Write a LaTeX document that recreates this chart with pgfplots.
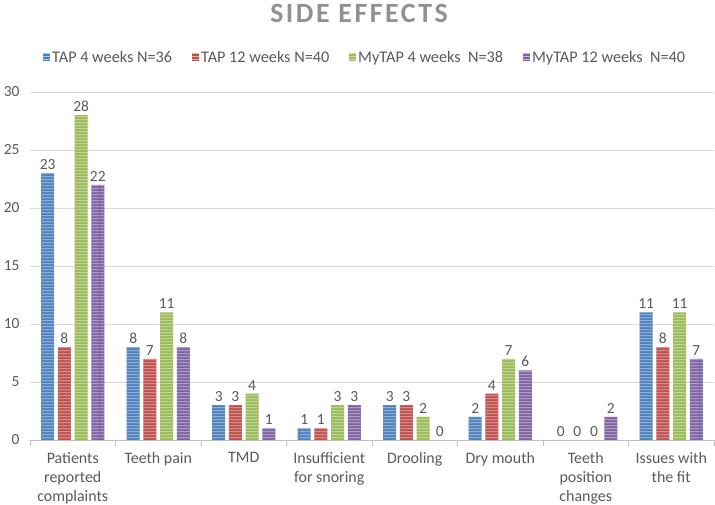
\documentclass[border=0pt]{standalone}
\usepackage{fontspec}
\setmainfont{Carlito}
\newfontfamily\titlefont[LetterSpace=9]{Carlito}
\usepackage{pgfplots}
\pgfplotsset{compat=1.18}
\usetikzlibrary{patterns}
\definecolor{tapblue}{RGB}{79,129,189}
\definecolor{tapred}{RGB}{192,80,77}
\definecolor{tapgreen}{RGB}{155,187,89}
\definecolor{tappurple}{RGB}{128,100,162}
\definecolor{labgray}{RGB}{89,89,89}
\definecolor{titlegray}{RGB}{145,145,148}
\definecolor{gridgray}{RGB}{217,217,217}
\definecolor{axisgray}{RGB}{191,191,191}
\pgfdeclarepatternformonly{hstripes}{\pgfpointorigin}{\pgfqpoint{100bp}{3bp}}{\pgfqpoint{100bp}{3bp}}{%
  \pgfsetlinewidth{1bp}%
  \pgfpathmoveto{\pgfqpoint{0bp}{1.5bp}}%
  \pgfpathlineto{\pgfqpoint{100bp}{1.5bp}}%
  \pgfusepath{stroke}}
\begin{document}
\begin{tikzpicture}
\path[use as bounding box] (0,0) rectangle (715bp,505bp);
\begin{axis}[
  at={(30bp,65bp)}, anchor=south west,
  scale only axis, width=684bp, height=348bp,
  ybar=3.7bp, bar width=13bp,
  xmin=-0.5, xmax=7.5, ymin=0, ymax=30,
  ytick={0,5,...,30},
  xtick={0,...,7},
  xticklabels={{Patients\\reported\\complaints},{Teeth pain},{TMD},{Insufficient\\for snoring},{Drooling},{Dry mouth},{Teeth\\position\\changes},{Issues with\\the fit}},
  minor xtick={-0.5,0.5,...,7.5},
  axis x line*=bottom, axis y line*=left,
  y axis line style={draw=none},
  x axis line style={draw=axisgray, line width=1bp},
  tick align=outside,
  major tick length=0pt, minor tick length=6bp,
  every minor x tick/.append style={draw=axisgray, line width=1bp},
  every major x tick/.append style={draw=none},
  ytick style={draw=none},
  ymajorgrids, grid style={draw=gridgray, line width=0.8bp},
  /pgf/number format/assume math mode=true,
  yticklabel style={font=\fontsize{15.5}{18}\selectfont, text=labgray, xshift=-7bp},
  xticklabel style={font=\fontsize{16}{19}\selectfont, text=labgray, align=center, yshift=-9bp},
  nodes near coords,
  every node near coord/.append style={font=\fontsize{15.5}{18}\selectfont, text=labgray},
  legend columns=4,
  legend style={draw=none, at={(0.49,1.10)}, anchor=center, font=\fontsize{16.3}{19}\selectfont, text=labgray,
    /tikz/every even column/.append style={column sep=18bp}},
  legend image code/.code={\path[#1,draw=none] (0bp,-3.5bp) rectangle (7bp,3.5bp);},
]
\addplot[fill=tapblue, draw=none, postaction={pattern=hstripes, pattern color=tapblue!45!white}]
  coordinates {(0,23)(1,8)(2,3)(3,1)(4,3)(5,2)(6,0)(7,11)};
\addplot[fill=tapred, draw=none, postaction={pattern=hstripes, pattern color=tapred!45!white}]
  coordinates {(0,8)(1,7)(2,3)(3,1)(4,3)(5,4)(6,0)(7,8)};
\addplot[fill=tapgreen, draw=none, postaction={pattern=hstripes, pattern color=tapgreen!45!white}]
  coordinates {(0,28)(1,11)(2,4)(3,3)(4,2)(5,7)(6,0)(7,11)};
\addplot[fill=tappurple, draw=none, postaction={pattern=hstripes, pattern color=tappurple!45!white}]
  coordinates {(0,22)(1,8)(2,1)(3,3)(4,0)(5,6)(6,2)(7,7)};
\legend{TAP 4 weeks N=36, TAP 12 weeks N=40, MyTAP 4 weeks\ \ N=38, MyTAP 12 weeks\ \ N=40}
\end{axis}
\node[font=\fontsize{28}{30}\selectfont\titlefont\bfseries, text=titlegray, anchor=base] at (359bp,482bp) {SIDE EFFECTS};
\end{tikzpicture}
\end{document}
